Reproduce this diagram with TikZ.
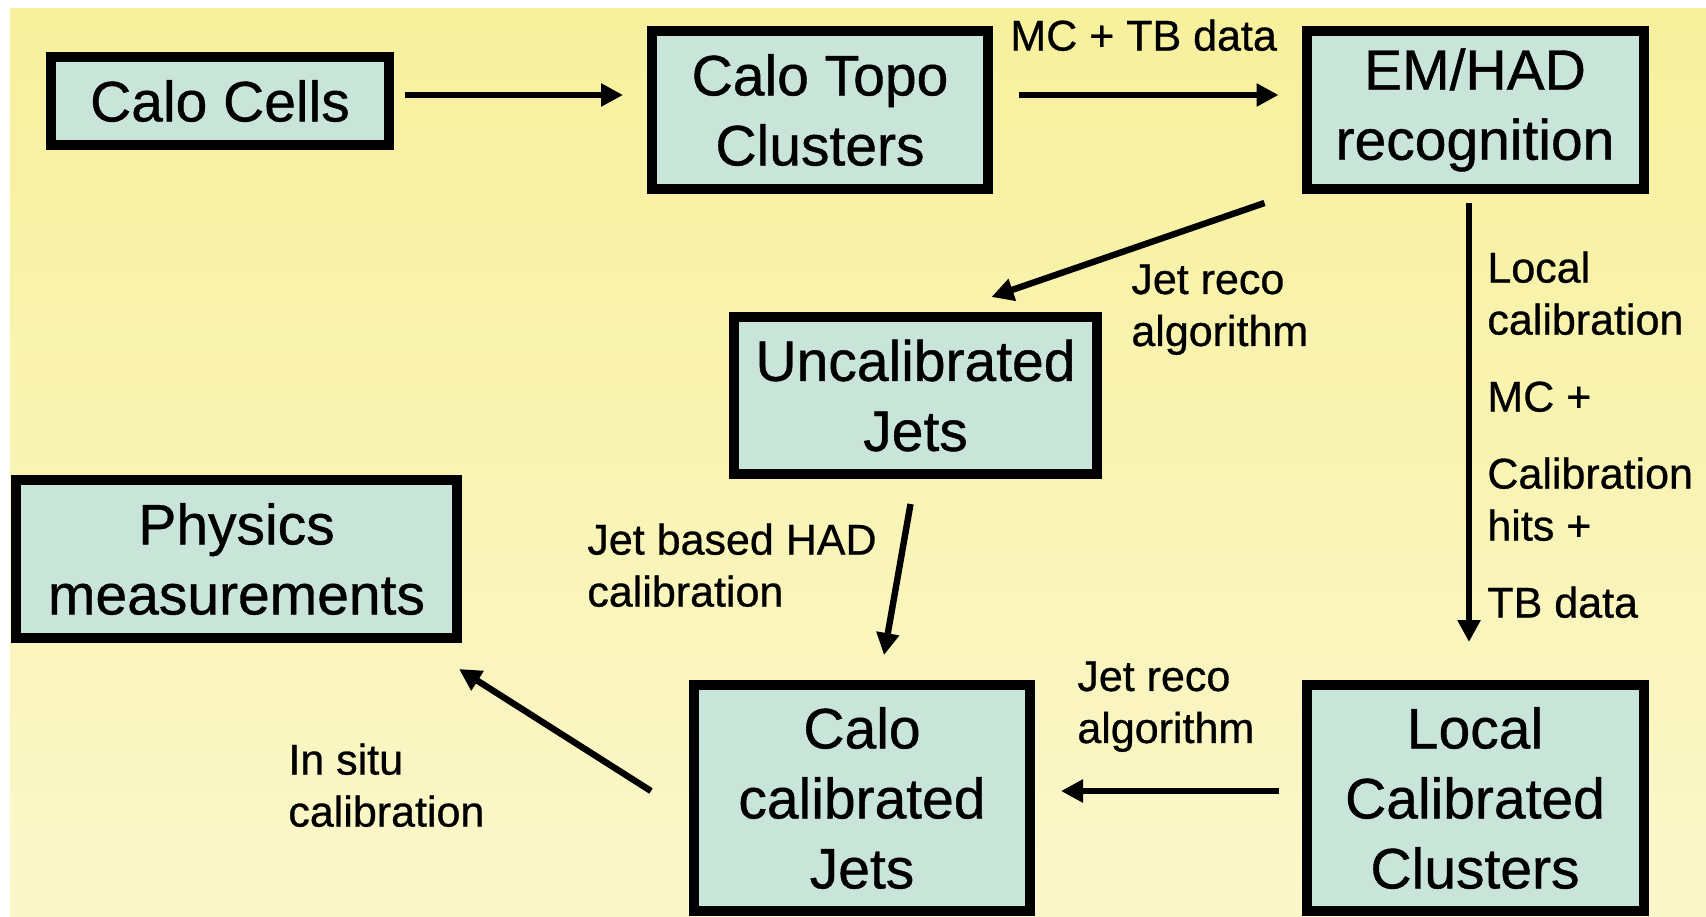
\documentclass[tikz,border=0pt]{standalone}
\usepackage{fontspec}
\setmainfont{Liberation Sans}[FakeBold=0.7]
\usetikzlibrary{arrows.meta}
\definecolor{bgtop}{HTML}{F7F09C}
\definecolor{bgbot}{HTML}{FBF7CB}
\definecolor{cellfill}{HTML}{C9E4D9}

\begin{document}
\begin{tikzpicture}[x=0.5pt, y=-0.5pt,
  box/.style={draw, line width=5pt, fill=cellfill, inner sep=2pt, align=center, font=\fontsize{28.5}{35}\selectfont},
  lbl/.style={anchor=north west, align=left, inner sep=0pt, font=\fontsize{21.5}{26}\selectfont},
  arr/.style={-{Triangle[length=11pt, width=11pt]}, line width=3.2pt}
]
  \useasboundingbox (0,0) rectangle (1706,916);
  % Background
  \shade[top color=bgtop, bottom color=bgbot] (10,8) rectangle (1706,916);

  % Top row
  \node[box, minimum width=169pt, minimum height=44pt] (cells) at (220,101) {Calo Cells};
  \node[box, minimum width=168pt, minimum height=79pt] (topo) at (820,110) {Calo Topo\\Clusters};
  \node[box, minimum width=168.5pt, minimum height=79pt] (emhad) at (1475,110) {EM/HAD\\recognition};

  % Middle
  \node[box, minimum width=181.5pt, minimum height=78.5pt] (uncal) at (915.5,395.5) {Uncalibrated\\Jets};
  \node[box, minimum width=220.5pt, minimum height=79pt] (phys) at (236.5,559) {Physics\\measurements};

  % Bottom row
  \node[box, minimum width=168pt, minimum height=113pt] (calo) at (862,798) {Calo\\calibrated\\Jets};
  \node[box, minimum width=168.5pt, minimum height=113pt] (local) at (1475,798) {Local\\Calibrated\\Clusters};

  % Labels
  \node[lbl] (mctb) at (1010,19) {MC + TB data};
  \node[lbl] (recoa) at (1131,264) {Jet reco\\algorithm};
  \node[lbl] (localcal) at (1487,251) {Local\\calibration\\[12.5pt]MC +\\[12.5pt]Calibration\\hits +\\[12.5pt]TB data};
  \node[lbl] (hadcal) at (587,523) {Jet based HAD\\calibration};
  \node[lbl] (recob) at (1077,661) {Jet reco\\algorithm};
  \node[lbl] (insitu) at (288,743) {In situ\\calibration};

  \draw[arr, shorten <=5.5pt, shorten >=12pt] ([yshift=3pt]cells.east) -- ([yshift=7.5pt]topo.west);
  \draw[arr, shorten <=13pt, shorten >=11.5pt] ([yshift=7.5pt]topo.east) -- ([yshift=7.5pt]emhad.west);
  \draw[arr] ([xshift=-18.5pt, yshift=-4.5pt]emhad.south west) -- ([xshift=38pt, yshift=7.5pt]uncal.north);
  \draw[arr] ([xshift=-3pt, yshift=-4.5pt]emhad.south) -- ([xshift=-3pt, yshift=19pt]local.north);
  \draw[arr] ([xshift=-2.5pt, yshift=-12.5pt]uncal.south) -- ([xshift=11pt, yshift=12.5pt]calo.north);
  \draw[arr] ([xshift=-11.5pt, yshift=3.5pt]local.west) -- ([xshift=13pt, yshift=3.5pt]calo.east);
  \draw[arr] ([xshift=-19pt, yshift=3.5pt]calo.west) -- ([xshift=-1.5pt, yshift=-13pt]phys.south east);
\end{tikzpicture}
\end{document}
